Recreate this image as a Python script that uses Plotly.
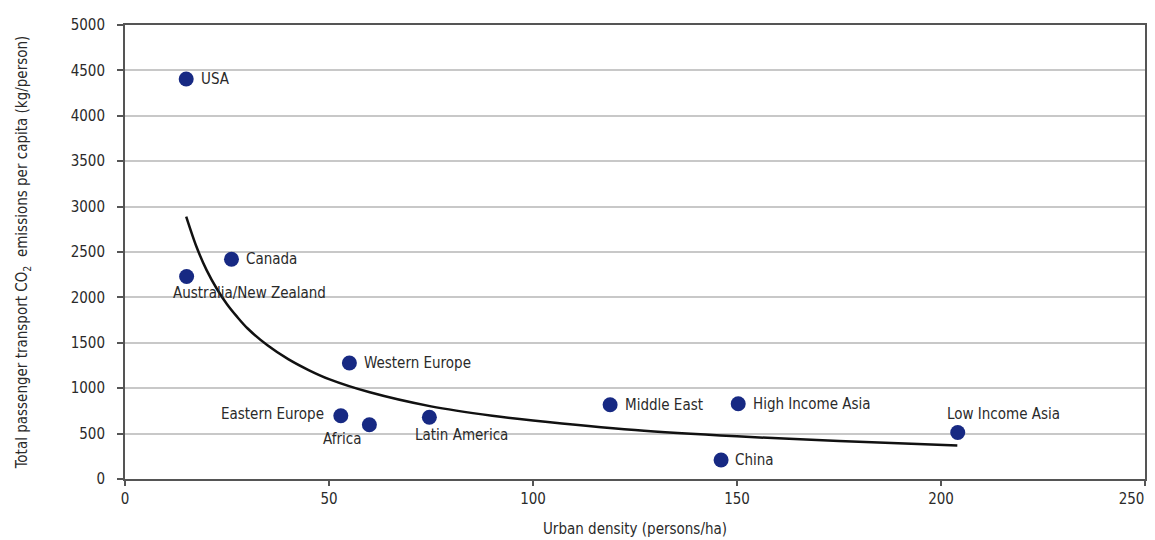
import plotly.graph_objects as go

# Data
regions = ["USA", "Australia/New Zealand", "Canada", "Western Europe", "Eastern Europe",
           "Africa", "Latin America", "Middle East", "High Income Asia", "China", "Low Income Asia"]
density = [15.0, 15.1, 26.1, 55.0, 52.9, 59.9, 74.6, 118.9, 150.3, 146.1, 204.1]
emissions = [4405, 2230, 2420, 1278, 697, 597, 680, 817, 828, 210, 512]

# Trend curve points
trend_x = [15, 17.5, 20, 22.5, 25, 27.5, 30, 35, 40, 45, 50, 60, 75, 90, 100, 125, 150, 175, 204]
trend_y = [2890, 2560, 2300, 2095, 1925, 1785, 1660, 1470, 1320, 1200, 1100, 955, 800, 697, 645, 540, 470, 418, 368]

x_ticks = [0, 50, 100, 150, 200, 250]
x_tick_labels = ["0", "50", "100", "150", "200", "250\u2003\u2003"]
y_ticks = [0, 500, 1000, 1500, 2000, 2500, 3000, 3500, 4000, 4500, 5000]

# label placement (pixel offsets, xanchor)
label_pos = {
    "USA": (13, 0, "left"),
    "Australia/New Zealand": (-16, -16, "left"),
    "Canada": (13, 0, "left"),
    "Western Europe": (13, 0, "left"),
    "Eastern Europe": (-15, 2, "right"),
    "Africa": (-6, -14, "right"),
    "Latin America": (-16, -18, "left"),
    "Middle East": (13, 0, "left"),
    "High Income Asia": (13, 0, "left"),
    "China": (12, 0, "left"),
    "Low Income Asia": (-13, 19, "left"),
}

FONT = "DejaVu Sans Condensed, Liberation Sans Narrow, Roboto, sans-serif"
FS = 15
TXT = "#2a2a2a"

fig = go.Figure()
fig.add_trace(go.Scatter(x=trend_x, y=trend_y, mode="lines",
                         line=dict(color="#111111", width=2.5, shape="spline", smoothing=0.8),
                         hoverinfo="skip", showlegend=False))
fig.add_trace(go.Scatter(x=density, y=emissions, mode="markers", text=regions,
                         marker=dict(color="#172983", size=15, line=dict(width=0)), showlegend=False))

annotations = []
for name, xv, yv in zip(regions, density, emissions):
    dx, dy, anchor = label_pos[name]
    annotations.append(dict(x=xv, y=yv, xref="x", yref="y", text=name, showarrow=False,
                            xanchor=anchor, yanchor="middle", xshift=dx, yshift=dy,
                            font=dict(family=FONT, size=FS, color=TXT)))

fig.update_layout(
    width=1147, height=532,
    margin=dict(l=117, r=10, t=17, b=61),
    paper_bgcolor="white", plot_bgcolor="white",
    font=dict(family=FONT, size=FS, color=TXT),
    annotations=annotations,
    xaxis=dict(range=[0, 250], tickvals=x_ticks, ticktext=x_tick_labels,
               showgrid=False, zeroline=False, automargin=False,
               showline=True, mirror=True, linecolor="#555555", linewidth=2,
               ticks="outside", ticklen=5, tickcolor="#555555", tickwidth=1.5,
               ticklabelstandoff=0, ticklabeloverflow="allow",
               title=dict(text="Urban density (persons/ha)", standoff=16,
                          font=dict(family=FONT, size=FS, color=TXT))),
    yaxis=dict(range=[0, 5000], tickvals=y_ticks, showgrid=True, gridcolor="#c8c8c8", gridwidth=1.5,
               zeroline=False, showline=True, mirror=True, linecolor="#555555", linewidth=2,
               automargin=False,
               ticks="outside", ticklen=6, tickcolor="#555555", tickwidth=1.5,
               ticklabelstandoff=9,
               title=dict(text="Total passenger transport CO<sub>2</sub>  emissions per capita (kg/person)",
                          standoff=39, font=dict(family=FONT, size=FS, color=TXT))),
)

fig.write_html("out.html")
